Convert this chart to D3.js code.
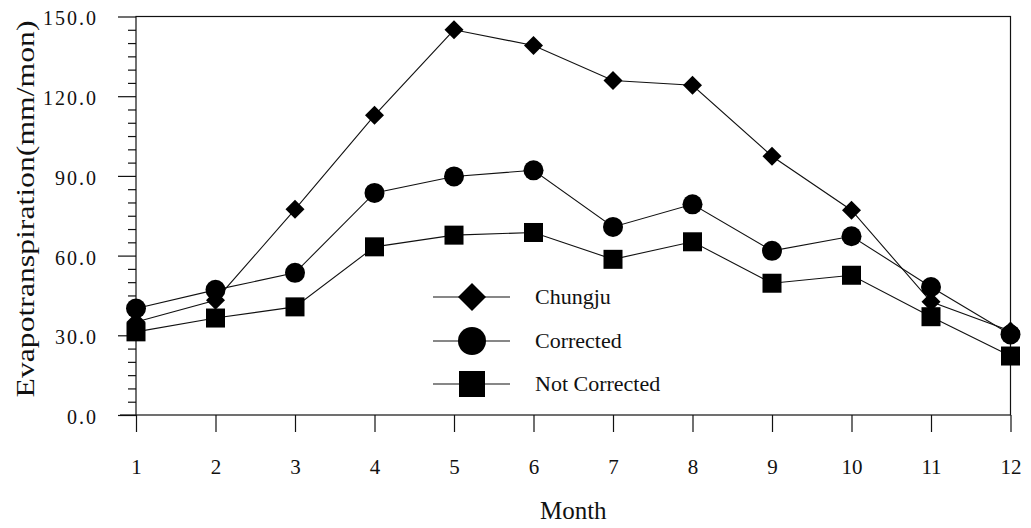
<!DOCTYPE html>
<html><head><meta charset="utf-8">
<script src="https://cdn.jsdelivr.net/npm/d3@7"></script>
<style>body{margin:0;background:#fff}svg{display:block}text{font-family:"Liberation Serif","Times New Roman",serif;fill:#111}</style>
</head><body>
<svg id="c" width="1031" height="528"></svg>
<script>
const months = [1,2,3,4,5,6,7,8,9,10,11,12];
const chungju = [35,43.2,77.4,112.8,145,139.1,125.9,124.1,97.4,77.1,42.6,31.6];
const corrected = [40.1,47.1,53.5,83.6,89.8,92.1,70.8,79.3,61.8,67.3,48.2,30.3];
const notCorrected = [31.3,36.5,40.7,63.3,67.7,68.7,58.6,65.2,49.6,52.6,37.0,22.2];
const yTicks = [0,30,60,90,120,150];
const seriesNames = ["Chungju","Corrected","Not Corrected"];

const svg = d3.select("#c");
const L=136, R=1010.5, T=16.5, B=415;
const x = d3.scaleLinear().domain([1,12]).range([L,R]);
const y = d3.scaleLinear().domain([0,150]).range([B,T]);
const col="#111";

// frame
svg.append("rect").attr("x",L).attr("y",T).attr("width",R-L).attr("height",B-T)
  .attr("fill","none").attr("stroke",col).attr("stroke-width",1.2);

// y axis
const yAx = svg.append("g").attr("transform",`translate(${L},0)`)
  .call(d3.axisLeft(y).tickValues(yTicks).tickSize(18).tickPadding(20).tickFormat(d3.format(".1f")));
yAx.select(".domain").remove();
yAx.selectAll(".tick line").attr("x2",-18).attr("stroke",col).attr("stroke-width",1.2);
yAx.selectAll(".tick text").attr("x",-38).attr("dy","0.42em")
  .style("font-size","20px").style("letter-spacing","2px").attr("fill",col);
const yMinor = svg.append("g").attr("transform",`translate(${L},0)`)
  .call(d3.axisLeft(y).tickValues(d3.range(0,151,5).filter(v=>v%30!==0)).tickSize(8).tickFormat(""));
yMinor.select(".domain").remove();
yMinor.selectAll(".tick line").attr("x2",-8).attr("stroke",col).attr("stroke-width",1.2);

// x axis
const xAx = svg.append("g").attr("transform",`translate(0,${B})`)
  .call(d3.axisBottom(x).tickValues(months).tickSize(17).tickPadding(27).tickFormat(d3.format("d")));
xAx.select(".domain").remove();
xAx.selectAll(".tick line").attr("y2",17).attr("stroke",col).attr("stroke-width",1.2);
xAx.selectAll(".tick text").attr("y",44).style("font-size","21px").attr("fill",col);
svg.append("line").attr("x1",120).attr("x2",L).attr("y1",B).attr("y2",B).attr("stroke",col).attr("stroke-width",1.2);

// titles
svg.append("text").attr("transform",`translate(34,209) rotate(-90) scale(1.22,1)`).attr("text-anchor","middle")
  .style("font-size","26px").text("Evapotranspiration(mm/mon)");
svg.append("text").attr("x",(L+R)/2).attr("y",519).attr("text-anchor","middle")
  .style("font-size","25px").text("Month");

const line = d3.line().x((d,i)=>x(months[i])).y(d=>y(d));
const data = [chungju, corrected, notCorrected];
const shapes = [
  (g,s)=>g.append("path").attr("d",`M0,${-s}L${s},0L0,${s}L${-s},0Z`),
  (g,s)=>g.append("circle").attr("r",s),
  (g,s)=>g.append("rect").attr("x",-s).attr("y",-s).attr("width",2*s).attr("height",2*s)
];
const sizes=[9.5,10,9.5];
const legSizes=[14,14,13];

data.forEach(vals=>{
  svg.append("path").datum(vals).attr("d",line).attr("fill","none").attr("stroke",col).attr("stroke-width",1.1);
});
data.forEach((vals,k)=>{
  vals.forEach((v,i)=>{
    const g = svg.append("g").attr("transform",`translate(${x(months[i])},${y(v)})`).attr("fill","#000");
    shapes[k](g,sizes[k]);
  });
});

// legend
const legY=[297,341,384];
seriesNames.forEach((n,k)=>{
  svg.append("line").attr("x1",433).attr("x2",510).attr("y1",legY[k]).attr("y2",legY[k]).attr("stroke",col).attr("stroke-width",1.1);
  const g = svg.append("g").attr("transform",`translate(472,${legY[k]})`).attr("fill","#000");
  shapes[k](g,legSizes[k]);
  svg.append("text").attr("x",535).attr("y",legY[k]+7).style("font-size","22px").text(n);
});
</script>
</body></html>
